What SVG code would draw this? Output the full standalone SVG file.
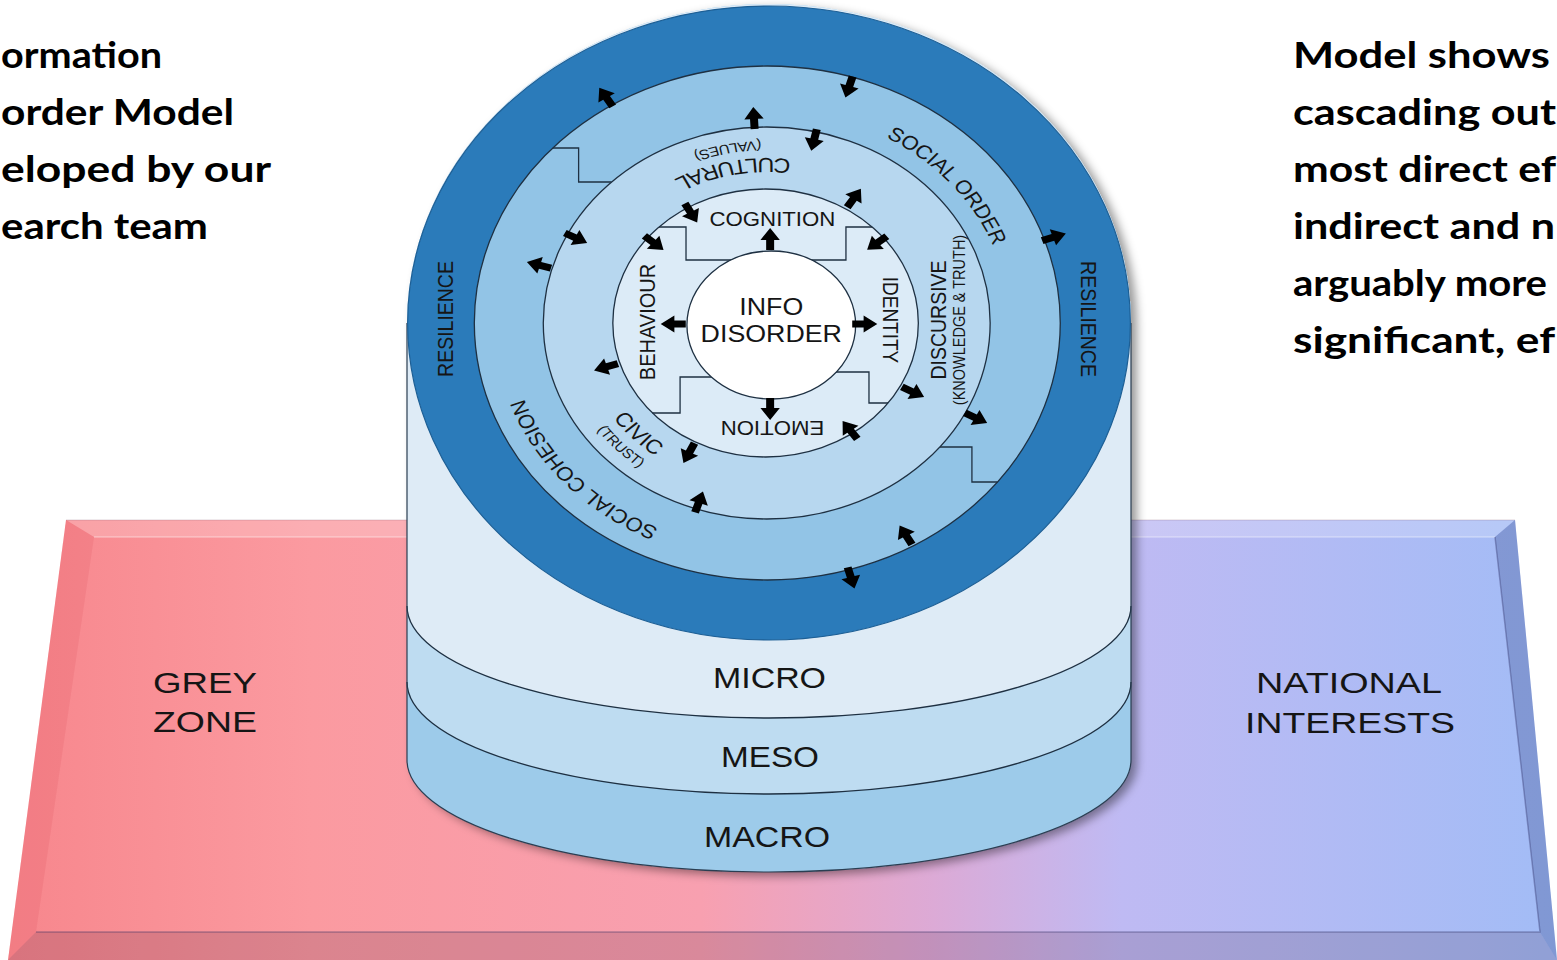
<svg xmlns="http://www.w3.org/2000/svg" width="1557" height="960" viewBox="0 0 1557 960">
<defs>
<style>
.t{font-family:"Liberation Sans",Arial,Helvetica,sans-serif;fill:#151515}
.cap{font-family:Lato,"Open Sans","Liberation Sans",sans-serif;font-weight:700;font-size:37px;fill:#000}
.ln{fill:none;stroke:#1e3042;stroke-width:1.3}
.ring{stroke:#1e3042;stroke-width:1.3}
.arr{fill:#000}
</style>
<linearGradient id="plat" x1="0" y1="0" x2="1557" y2="0" gradientUnits="userSpaceOnUse">
<stop offset="0" stop-color="#f7868c"/>
<stop offset="0.2" stop-color="#fb9aa0"/>
<stop offset="0.45" stop-color="#f8a0b0"/>
<stop offset="0.6" stop-color="#dcaad6"/>
<stop offset="0.72" stop-color="#bfbaf3"/>
<stop offset="1" stop-color="#a2bcf6"/>
</linearGradient>
<filter id="shadow" x="-5%" y="-5%" width="115%" height="115%">
<feDropShadow dx="6" dy="4" stdDeviation="5" flood-color="#000" flood-opacity="0.4"/>
</filter>
<path id="arr" d="M-11,-3.5 H-1 V-8.5 L11,0 L-1,8.5 V3.5 H-11 Z"/>
<path id="p-cultural" d="M139.3,-85.2 A165,165 0 0 0 -165.0,-25.5"/>
<path id="p-values" d="M154.0,-94.1 A182.5,182.5 0 0 0 -182.3,-28.2"/>
<path id="p-civic" d="M-150.9,-71.0 A165,165 0 0 0 66.4,150.2"/>
<path id="p-trust" d="M-166.5,-80.2 A183,183 0 0 0 72.4,167.2"/>
<path id="p-order" d="M-78.0,-199.0 A213,213 0 0 1 184.1,103.6"/>
<path id="p-cohesion" d="M84.1,208.9 A226,226 0 0 1 -202.3,-104.7"/>
</defs>
<rect width="1557" height="960" fill="#ffffff"/>

<g id="platform">
<polygon points="66,520 1515,520 1557,960 8,960" fill="url(#plat)"/>
<polygon points="66,520 1515,520 1495,537 94,537" fill="#ffffff" opacity="0.2"/>
<polygon points="66,520 94,537 36,932 8,960" fill="#d84050" opacity="0.14"/>
<polygon points="1515,520 1557,960 1540,932 1495,537" fill="#1c2c70" opacity="0.25"/>
<polygon points="36,932 1540,932 1557,960 8,960" fill="#3a1030" opacity="0.16"/>
<polyline points="94,537 1495,537" fill="none" stroke="#ffffff" stroke-opacity="0.35" stroke-width="1.5"/>
<polyline points="1495,537 1540,932 36,932" fill="none" stroke="#2a2a60" stroke-opacity="0.35" stroke-width="1.5"/>
<polyline points="66,520 1515,520" fill="none" stroke="#80506a" stroke-opacity="0.25" stroke-width="1"/>
</g>

<g id="grey-zone">
<text class="t" x="153" y="693" font-size="30" textLength="104" lengthAdjust="spacingAndGlyphs">GREY</text>
<text class="t" x="153" y="732" font-size="30" textLength="104" lengthAdjust="spacingAndGlyphs">ZONE</text>
</g>
<g id="national-interests">
<text class="t" x="1256" y="693" font-size="30" textLength="186" lengthAdjust="spacingAndGlyphs">NATIONAL</text>
<text class="t" x="1245" y="733" font-size="30" textLength="210" lengthAdjust="spacingAndGlyphs">INTERESTS</text>
</g>

<g id="levels">
<path d="M407,323 V760 A362,112 0 0 0 1131,760 V323 A362,319 0 0 0 407,323 Z" fill="#9dcbea" filter="url(#shadow)"/>
<path d="M407,323 V682 A362,112 0 0 0 1131,682 V323 A362,319 0 0 0 407,323 Z" fill="#bedcf1"/>
<path d="M407,323 V606 A362,112 0 0 0 1131,606 V323 A362,319 0 0 0 407,323 Z" fill="#deebf6"/>
<path class="ln" d="M407,606 A362,112 0 0 0 1131,606"/>
<path class="ln" d="M407,682 A362,112 0 0 0 1131,682"/>
<path d="M407,323 V760 A362,112 0 0 0 1131,760 V323" fill="none" stroke="#2a3e52" stroke-width="1.2"/>
<text class="t" x="713" y="688" font-size="29" textLength="113" lengthAdjust="spacingAndGlyphs">MICRO</text>
<text class="t" x="721" y="767" font-size="29" textLength="98" lengthAdjust="spacingAndGlyphs">MESO</text>
<text class="t" x="704" y="847" font-size="29" textLength="126" lengthAdjust="spacingAndGlyphs">MACRO</text>
</g>

<g transform="matrix(1.14 0 0 1 769 323)">
<g id="resilience">
<circle cx="0" cy="0" r="317" fill="#2b7bba" stroke="#1d5f95" stroke-width="1.2" vector-effect="non-scaling-stroke"/>
<text class="t" transform="translate(-284,-4) rotate(-90)" y="7" font-size="19.5" text-anchor="middle" fill="#10304c">RESILIENCE</text>
<text class="t" transform="translate(281,-4) rotate(90)" y="7" font-size="19.5" text-anchor="middle" fill="#10304c">RESILIENCE</text>
</g>
<g id="social">
<circle cx="-1.5" cy="0" r="257" fill="#92c4e6" class="ring" vector-effect="non-scaling-stroke"/>
<path class="ln" vector-effect="non-scaling-stroke" d="M-189.7,-175 H-167 V-141 H-138.1"/>
<path class="ln" vector-effect="non-scaling-stroke" d="M149.8,124 H178 V159 H200.4"/>
<text class="t" font-size="19.5"><textPath href="#p-order" startOffset="50%" text-anchor="middle">SOCIAL ORDER</textPath></text>
<text class="t" font-size="19.5"><textPath href="#p-cohesion" startOffset="50%" text-anchor="middle">SOCIAL COHESION</textPath></text>
</g>
<g id="cultural">
<circle cx="-2" cy="0" r="196" fill="#b7d7ef" class="ring" vector-effect="non-scaling-stroke"/>
<text class="t" font-size="20.5"><textPath href="#p-cultural" startOffset="50%" text-anchor="middle">CULTURAL</textPath></text>
<text class="t" font-size="13.5"><textPath href="#p-values" startOffset="50%" text-anchor="middle">(VALUES)</textPath></text>
<text class="t" font-size="20"><textPath href="#p-civic" startOffset="50%" text-anchor="middle">CIVIC</textPath></text>
<text class="t" font-size="13.5"><textPath href="#p-trust" startOffset="50%" text-anchor="middle">(TRUST)</textPath></text>
<text class="t" transform="translate(148,-3) rotate(-90)" y="7" font-size="19.5" text-anchor="middle">DISCURSIVE</text>
<text class="t" transform="translate(166.5,-3) rotate(-90)" y="5" font-size="14.5" text-anchor="middle">(KNOWLEDGE &amp; TRUTH)</text>
</g>
<g id="cognition">
<circle cx="-3" cy="0" r="134" fill="#dcebf7" class="ring" vector-effect="non-scaling-stroke"/>
<path class="ln" vector-effect="non-scaling-stroke" d="M-96.5,-96 H-72.8 V-63 H67.5 V-96 H90.5"/>
<path class="ln" vector-effect="non-scaling-stroke" d="M0,54 H-78 V90 H-102.3"/>
<path class="ln" vector-effect="non-scaling-stroke" d="M0,49 H87.7 V80 H104.5"/>
<text class="t" x="3" y="-97" font-size="19.5" text-anchor="middle">COGNITION</text>
<text class="t" transform="translate(3,105.5) rotate(180)" y="7" font-size="19.5" text-anchor="middle">EMOTION</text>
<text class="t" transform="translate(-107,-1) rotate(-90)" y="7" font-size="20" text-anchor="middle">BEHAVIOUR</text>
<text class="t" transform="translate(107,-3) rotate(90)" y="7" font-size="19" text-anchor="middle">IDENTITY</text>
</g>
<g id="info-disorder">
<circle cx="2" cy="2" r="74" fill="#ffffff" class="ring" vector-effect="non-scaling-stroke"/>
<text class="t" x="2" y="-8" font-size="23.5" text-anchor="middle">INFO</text>
<text class="t" x="2" y="19" font-size="23.5" text-anchor="middle">DISORDER</text>
</g>
<g id="connectors" class="arr">
<use href="#arr" transform="translate(1,-84) rotate(-90)"/>
<use href="#arr" transform="translate(1,86) rotate(90)"/>
<use href="#arr" transform="translate(-84,1) rotate(180)"/>
<use href="#arr" transform="translate(84,1) rotate(0)"/>
<use href="#arr" transform="translate(-68.4,-110) rotate(60.6)"/>
<use href="#arr" transform="translate(-100.9,-80) rotate(40.3)"/>
<use href="#arr" transform="translate(74.6,-125) rotate(-57)"/>
<use href="#arr" transform="translate(94.7,-80) rotate(141.7)"/>
<use href="#arr" transform="translate(126.3,69) rotate(27.5)"/>
<use href="#arr" transform="translate(71,107) rotate(234.1)"/>
<use href="#arr" transform="translate(-70.2,130) rotate(116.1)"/>
<use href="#arr" transform="translate(-143,44) rotate(162.1)"/>
<use href="#arr" transform="translate(-169.3,-85) rotate(27)"/>
<use href="#arr" transform="translate(-201.8,-58) rotate(-163.8)"/>
<use href="#arr" transform="translate(-13.2,-205) rotate(-93.1)"/>
<use href="#arr" transform="translate(39.5,-183) rotate(102.8)"/>
<use href="#arr" transform="translate(181.6,95) rotate(27.4)"/>
<use href="#arr" transform="translate(-61.4,179) rotate(-71.6)"/>
<use href="#arr" transform="translate(-143,-226) rotate(-122.3)"/>
<use href="#arr" transform="translate(70.2,-236) rotate(106.6)"/>
<use href="#arr" transform="translate(250,-86) rotate(-19)"/>
<use href="#arr" transform="translate(120,212) rotate(240.5)"/>
<use href="#arr" transform="translate(72,255) rotate(74.2)"/>
</g>
</g>

<g id="caption-left">
<text class="cap" x="1" y="68" textLength="161" lengthAdjust="spacingAndGlyphs">ormation</text>
<text class="cap" x="1" y="125" textLength="233" lengthAdjust="spacingAndGlyphs">order Model</text>
<text class="cap" x="1" y="182" textLength="270" lengthAdjust="spacingAndGlyphs">eloped by our</text>
<text class="cap" x="1" y="239" textLength="207" lengthAdjust="spacingAndGlyphs">earch team</text>
</g>
<g id="caption-right">
<text class="cap" x="1293" y="68" textLength="257" lengthAdjust="spacingAndGlyphs">Model shows</text>
<text class="cap" x="1293" y="125" textLength="263" lengthAdjust="spacingAndGlyphs">cascading out</text>
<text class="cap" x="1293" y="182" textLength="263" lengthAdjust="spacingAndGlyphs">most direct ef</text>
<text class="cap" x="1293" y="239" textLength="262" lengthAdjust="spacingAndGlyphs">indirect and n</text>
<text class="cap" x="1293" y="296" textLength="254" lengthAdjust="spacingAndGlyphs">arguably more</text>
<text class="cap" x="1293" y="353" textLength="262" lengthAdjust="spacingAndGlyphs">significant, ef</text>
</g>
</svg>
